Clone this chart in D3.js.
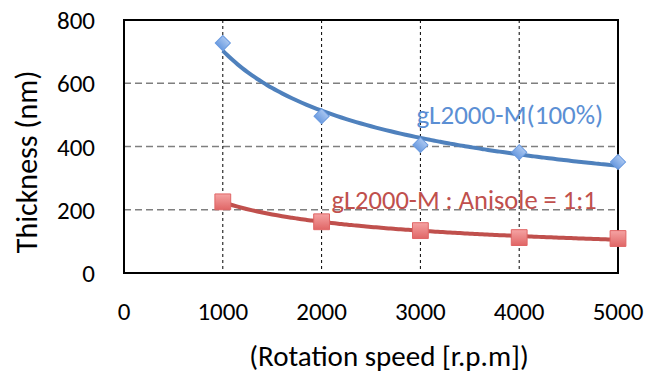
<!DOCTYPE html>
<html>
<head>
<meta charset="utf-8">
<script src="https://cdn.jsdelivr.net/npm/d3@7"></script>
<style>
  body { margin: 0; background: #fff; }
  text { font-family: Carlito, Lato, sans-serif; }
</style>
</head>
<body>
<div id="chart"></div>
<script>
var speeds = [1000, 2000, 3000, 4000, 5000];
var pure = [727, 496, 405, 382, 351];
var mixed = [225, 162, 134, 112, 109];
var xTicks = [0, 1000, 2000, 3000, 4000, 5000];
var yTicks = [0, 200, 400, 600, 800];

var margin = { top: 20, right: 29, bottom: 102, left: 124 };
var width = 494;
var height = 253;

var svg = d3.select('#chart').append('svg')
    .attr('width', 647)
    .attr('height', 375);

var g = svg.append('g')
    .attr('transform', 'translate(' + margin.left + ',' + margin.top + ')');

var xScale = d3.scaleLinear().domain([0, 5000]).range([0, width]);
var yScale = d3.scaleLinear().domain([0, 800]).range([height, 0]);

// grid
g.selectAll('.hgrid')
    .data(yTicks.filter(d => d > 0 && d < 800))
    .enter().append('line')
    .attr('x1', 0).attr('x2', width)
    .attr('y1', d => yScale(d)).attr('y2', d => yScale(d))
    .attr('stroke', '#7f7f7f')
    .attr('stroke-width', 1.5)
    .attr('stroke-dasharray', '7,4');

g.selectAll('.vgrid')
    .data(xTicks.filter(d => d > 0 && d < 5000))
    .enter().append('line')
    .attr('x1', d => xScale(d)).attr('x2', d => xScale(d))
    .attr('y1', 0).attr('y2', height)
    .attr('stroke', '#000')
    .attr('stroke-width', 1)
    .attr('stroke-dasharray', '3,3');

// frame
g.append('rect')
    .attr('width', width).attr('height', height)
    .attr('fill', 'none')
    .attr('stroke', '#000')
    .attr('stroke-width', 2);

// tick labels
g.selectAll('.ylab')
    .data(yTicks)
    .enter().append('text')
    .attr('x', -29)
    .attr('y', d => yScale(d))
    .attr('dy', '0.36em')
    .attr('text-anchor', 'end')
    .style('font-size', '25px')
    .text(d => d);

g.selectAll('.xlab')
    .data(xTicks)
    .enter().append('text')
    .attr('x', d => xScale(d))
    .attr('y', height + 47)
    .attr('text-anchor', 'middle')
    .style('font-size', '25px')
    .text(d => d);

// axis titles
svg.append('text')
    .attr('transform', 'translate(37,162) rotate(-90)')
    .attr('text-anchor', 'middle')
    .style('font-size', '30px')
    .text('Thickness (nm)');

svg.append('text')
    .attr('x', 389)
    .attr('y', 366)
    .attr('text-anchor', 'middle')
    .style('font-size', '29px')
    .text('(Rotation speed [r.p.m])');

// power trendline from the data (least squares on log-log)
function powerFit(xs, ys) {
    var lx = xs.map(Math.log), ly = ys.map(Math.log);
    var mx = d3.mean(lx), my = d3.mean(ly);
    var b = d3.sum(lx, (v, i) => (v - mx) * (ly[i] - my)) / d3.sum(lx, v => (v - mx) * (v - mx));
    var a = Math.exp(my - b * mx);
    return x => a * Math.pow(x, b);
}

var series = [
    { values: pure, line: '#4f81bd', fill: '#6b9be0', light: '#a9c6f0', rot: 45, size: 115 },
    { values: mixed, line: '#c0504d', fill: '#e06666', light: '#f5a3a3', rot: 0, size: 250 }
];

var defs = svg.append('defs');
series.forEach(function (s, i) {
    var grad = defs.append('linearGradient')
        .attr('id', 'grad' + i)
        .attr('x1', 0).attr('y1', 0).attr('x2', 0).attr('y2', 1);
    grad.append('stop').attr('offset', '0%').attr('stop-color', s.light);
    grad.append('stop').attr('offset', '100%').attr('stop-color', s.fill);
});

var line = d3.line()
    .x(d => xScale(d[0]))
    .y(d => yScale(d[1]))
    .curve(d3.curveBasis);

series.forEach(function (s, i) {
    var f = powerFit(speeds, s.values);
    var pts = d3.range(1000, 5001, 50).map(x => [x, f(x)]);
    g.append('path')
        .datum(pts)
        .attr('d', line)
        .attr('fill', 'none')
        .attr('stroke', s.line)
        .attr('stroke-width', 4);

    g.selectAll('.pt' + i)
        .data(speeds)
        .enter().append('path')
        .attr('d', d3.symbol().type(d3.symbolSquare).size(s.size))
        .attr('transform', (d, j) => 'translate(' + xScale(d) + ',' + yScale(s.values[j]) + ') rotate(' + s.rot + ')')
        .attr('fill', 'url(#grad' + i + ')')
        .attr('stroke', s.fill)
        .attr('stroke-width', 1);
});

// series labels
g.append('text')
    .attr('x', xScale(3000) - 4)
    .attr('y', yScale(470))
    .attr('fill', '#5b8fd4')
    .style('font-size', '27px')
    .text('gL2000-M(100%)');

g.append('text')
    .attr('x', xScale(2100))
    .attr('y', yScale(203))
    .attr('fill', '#c0504d')
    .style('font-size', '26.5px')
    .text('gL2000-M : Anisole = 1:1');
</script>
</body>
</html>
